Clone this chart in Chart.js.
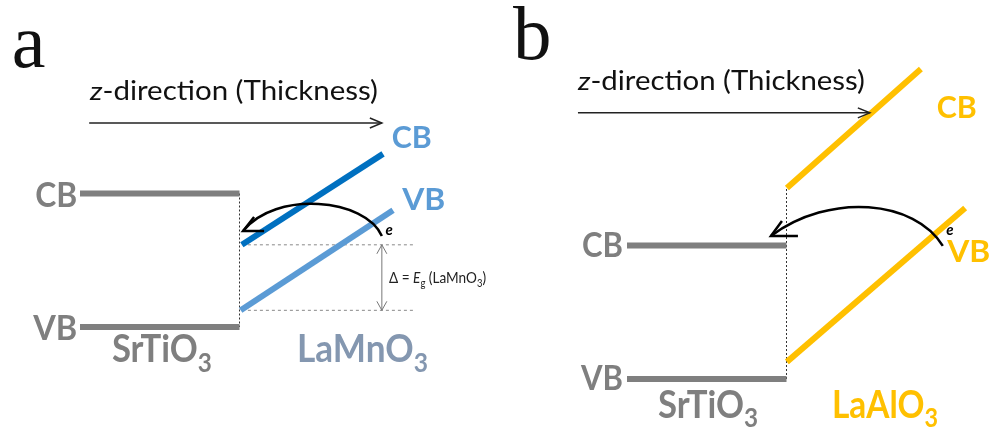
<!DOCTYPE html>
<html>
<head>
<meta charset="utf-8">
<script src="https://cdn.jsdelivr.net/npm/chart.js@4.4.1/dist/chart.umd.min.js"></script>
<style>
  html, body { margin: 0; padding: 0; background: #fff; }
  body { width: 989px; height: 432px; position: relative; overflow: hidden; }
  .panel { position: absolute; top: 0; height: 432px; }
  #panel-a { left: 0; width: 494px; }
  #panel-b { left: 494px; width: 495px; }
</style>
</head>
<body>
<div class="panel" id="panel-a"><canvas id="chart-a"></canvas></div>
<div class="panel" id="panel-b"><canvas id="chart-b"></canvas></div>
<script>

// -------- BAND DATA (z in arb. units, energy in eV, SrTiO3 VB = 0) -------- //

const stoZ = [-4, 0];
const stoLevels = [3.2, 0];          // SrTiO3 CB, VB

const lmoZ_CB = [0.06, 3.6];
const lmoCB = [1.97, 4.15];
const lmoZ_VB = [0.03, 3.85];
const lmoVB = [0.4, 2.8];

const laoZ_CB = [0.01, 3.37];
const laoCB = [4.58, 7.43];
const laoZ_VB = [0.01, 4.48];
const laoVB = [0.41, 4.1];

const gapRefZ = [0.06, 4.35];        // extent of the dotted gap guides

const GRAY = '#7f7f7f';
const FONT = 'Lato, "Open Sans", sans-serif';

const pts = (zs, es) => zs.map((z, i) => ({ x: z, y: es[i] }));

function band(data, color, width, dash) {
  return {
    data: data,
    showLine: true,
    borderColor: color,
    borderWidth: width,
    borderDash: dash || [],
    borderCapStyle: 'butt',
    pointRadius: 0,
    tension: 0,
    fill: false
  };
}

// pixel frame -> axis ranges (same px per unit in both panels)
function frame(leftPx, widthPx, ifacePx, vbPx) {
  const ux = 39.875, uy = 41.72;
  return {
    x: { type: 'linear', display: false, min: (leftPx - ifacePx) / ux, max: (leftPx + widthPx - ifacePx) / ux },
    y: { type: 'linear', display: false, min: (vbPx - 432) / uy, max: vbPx / uy }
  };
}

// -------- TEXT + ARROW HELPERS -------- //

function drawRich(ctx, segs, x, y, o) {
  let total = 0;
  const parts = segs.map(s => {
    const fs = s.sub ? o.size * 0.7 : o.size;
    const font = (s.italic ? 'italic ' : '') + (o.weight || 400) + ' ' + fs + 'px ' + (o.family || FONT);
    ctx.font = font;
    const w = ctx.measureText(s.t).width;
    total += w;
    return { t: s.t, font: font, w: w, dy: s.sub ? o.size * 0.25 : 0 };
  });
  const sx = o.width ? o.width / total : 1;
  ctx.save();
  ctx.translate(o.align === 'right' ? x - total * sx : x, y);
  ctx.scale(sx, 1);
  ctx.fillStyle = o.color || '#000';
  ctx.textBaseline = 'alphabetic';
  let cx = 0;
  parts.forEach(p => {
    ctx.font = p.font;
    ctx.fillText(p.t, cx, p.dy);
    cx += p.w;
  });
  ctx.restore();
}

function openHead(ctx, x, y, arms) {
  ctx.beginPath();
  ctx.moveTo(x + arms[0][0], y + arms[0][1]);
  ctx.lineTo(x, y);
  ctx.lineTo(x + arms[1][0], y + arms[1][1]);
  ctx.stroke();
}

const notesPlugin = {
  id: 'bandNotes',
  afterDatasetsDraw(chart, args, o) {
    const ctx = chart.ctx;
    const X = v => chart.scales.x.getPixelForValue(v);
    const Y = v => chart.scales.y.getPixelForValue(v);
    ctx.save();

    // panel letter
    ctx.fillStyle = '#111';
    ctx.font = o.letter.size + 'px "Liberation Serif", "Times New Roman", serif';
    ctx.textBaseline = 'alphabetic';
    ctx.fillText(o.letter.t, X(o.letter.x), Y(o.letter.y));

    // thickness direction
    drawRich(ctx, [{ t: 'z', italic: true }, { t: '-direction (Thickness)' }],
      X(o.zdir.x), Y(o.zdir.y), { size: 26, width: o.zdir.width, color: '#111' });
    ctx.strokeStyle = '#222';
    ctx.lineWidth = 1.5;
    ctx.beginPath();
    ctx.moveTo(X(o.zArrow.x0), Y(o.zArrow.y));
    ctx.lineTo(X(o.zArrow.x1), Y(o.zArrow.y));
    ctx.stroke();
    openHead(ctx, X(o.zArrow.x1), Y(o.zArrow.y), [[-12, -5], [-12, 5]]);

    // band gap marker
    if (o.gap) {
      const gx = X(o.gap.x), g0 = Y(o.gap.y0), g1 = Y(o.gap.y1);
      ctx.strokeStyle = '#777';
      ctx.lineWidth = 1;
      ctx.beginPath();
      ctx.moveTo(gx, g0);
      ctx.lineTo(gx, g1);
      ctx.stroke();
      openHead(ctx, gx, g0, [[-5, 9], [5, 9]]);
      openHead(ctx, gx, g1, [[-5, -9], [5, -9]]);
    }

    // labels
    o.labels.forEach(l => drawRich(ctx, l.segs, X(l.x), Y(l.y), l));

    // electron transfer arrow
    const c = o.curve.map(p => [X(p[0]), Y(p[1])]);
    ctx.strokeStyle = '#000';
    ctx.lineWidth = 2.5;
    ctx.beginPath();
    ctx.moveTo(c[0][0], c[0][1]);
    ctx.bezierCurveTo(c[1][0], c[1][1], c[2][0], c[2][1], c[3][0], c[3][1]);
    ctx.stroke();
    openHead(ctx, c[3][0], c[3][1], o.headArms);

    ctx.fillStyle = '#000';
    ctx.font = 'italic 700 15px ' + FONT;
    ctx.textAlign = 'center';
    ctx.textBaseline = 'middle';
    ctx.fillText('e', X(o.e[0]), Y(o.e[1]));
    ctx.restore();
  }
};

function baseOptions(fr, notes) {
  return {
    responsive: true,
    maintainAspectRatio: false,
    animation: { duration: 0 },
    layout: { padding: 0 },
    scales: fr,
    plugins: {
      legend: { display: false },
      tooltip: { enabled: false },
      bandNotes: notes
    }
  };
}

// -------- PANEL A : SrTiO3 / LaMnO3 -------- //

const blueLabel = '#5b9bd5';

new Chart(document.getElementById('chart-a'), {
  type: 'scatter',
  data: {
    datasets: [
      band(pts(stoZ, [stoLevels[0], stoLevels[0]]), GRAY, 6),
      band(pts(stoZ, [stoLevels[1], stoLevels[1]]), GRAY, 6),
      band(pts(lmoZ_CB, lmoCB), '#0070c0', 6),
      band(pts(lmoZ_VB, lmoVB), '#5b9bd5', 6),
      band(pts([0, 0], stoLevels), '#333', 1, [2, 2]),
      band(pts(gapRefZ, [lmoCB[0], lmoCB[0]]), '#888', 1, [3, 3]),
      band(pts(gapRefZ, [lmoVB[0], lmoVB[0]]), '#888', 1, [3, 3])
    ]
  },
  options: baseOptions(frame(0, 494, 239.5, 327), {
    letter: { t: 'a', x: -5.71, y: 6.23, size: 76 },
    zdir: { x: -3.75, y: 5.44, width: 288 },
    zArrow: { x0: -3.77, x1: 3.57, y: 4.89 },
    gap: { x: 3.57, y0: lmoCB[0], y1: lmoVB[0] },
    curve: [[3.57, 2.18], [3.17, 3.09], [0.89, 3.28], [0.09, 2.30]],
    headArms: [[11, -14], [21, 0]],
    e: [3.75, 2.33],
    labels: [
      { segs: [{ t: 'CB' }], x: -4.07, y: 2.88, size: 34, weight: 700, width: 42, color: GRAY, align: 'right' },
      { segs: [{ t: 'VB' }], x: -4.07, y: -0.31, size: 34, weight: 700, width: 44, color: GRAY, align: 'right' },
      { segs: [{ t: 'SrTiO' }, { t: '3', sub: true }], x: -3.2, y: -0.84, size: 38, weight: 700, width: 100, color: GRAY },
      { segs: [{ t: 'LaMnO' }, { t: '3', sub: true }], x: 1.44, y: -0.84, size: 38, weight: 700, width: 131, color: '#8497b0' },
      { segs: [{ t: 'CB' }], x: 3.82, y: 4.29, size: 31, weight: 700, width: 40, color: blueLabel },
      { segs: [{ t: 'VB' }], x: 4.08, y: 2.8, size: 31, weight: 700, width: 43, color: blueLabel },
      { segs: [{ t: '\u0394 = ' }, { t: 'E', italic: true }, { t: 'g', sub: true }, { t: ' (LaMnO' }, { t: '3', sub: true }, { t: ')' }],
        x: 3.75, y: 1.05, size: 15, width: 97, color: '#222' }
    ]
  }),
  plugins: [notesPlugin]
});

// -------- PANEL B : SrTiO3 / LaAlO3 -------- //

const yellow = '#ffc000';

new Chart(document.getElementById('chart-b'), {
  type: 'scatter',
  data: {
    datasets: [
      band(pts(stoZ, [stoLevels[0], stoLevels[0]]), GRAY, 6),
      band(pts(stoZ, [stoLevels[1], stoLevels[1]]), GRAY, 6),
      band(pts(laoZ_CB, laoCB), yellow, 6),
      band(pts(laoZ_VB, laoVB), yellow, 6),
      band(pts([0, 0], [stoLevels[1], laoCB[0]]), '#333', 1, [2, 2])
    ]
  },
  options: baseOptions(frame(494, 495, 786.5, 379), {
    letter: { t: 'b', x: -6.86, y: 7.67, size: 77 },
    zdir: { x: -5.23, y: 6.93, width: 287 },
    zArrow: { x0: -5.23, x1: 2.09, y: 6.38 },
    curve: [[3.92, 3.19], [3.22, 4.29], [1.09, 4.48], [-0.39, 3.43]],
    headArms: [[11, -15], [27, 0]],
    e: [4.1, 3.57],
    labels: [
      { segs: [{ t: 'CB' }], x: -4.1, y: 2.92, size: 34, weight: 700, width: 41, color: GRAY, align: 'right' },
      { segs: [{ t: 'VB' }], x: -4.1, y: -0.26, size: 34, weight: 700, width: 42, color: GRAY, align: 'right' },
      { segs: [{ t: 'SrTiO' }, { t: '3', sub: true }], x: -3.22, y: -0.93, size: 38, weight: 700, width: 100, color: GRAY },
      { segs: [{ t: 'LaAlO' }, { t: '3', sub: true }], x: 1.14, y: -0.93, size: 38, weight: 700, width: 106, color: yellow },
      { segs: [{ t: 'CB' }], x: 3.77, y: 6.26, size: 31, weight: 700, width: 40, color: yellow },
      { segs: [{ t: 'VB' }], x: 4.03, y: 2.8, size: 31, weight: 700, width: 43, color: yellow }
    ]
  }),
  plugins: [notesPlugin]
});
</script>
</body>
</html>
